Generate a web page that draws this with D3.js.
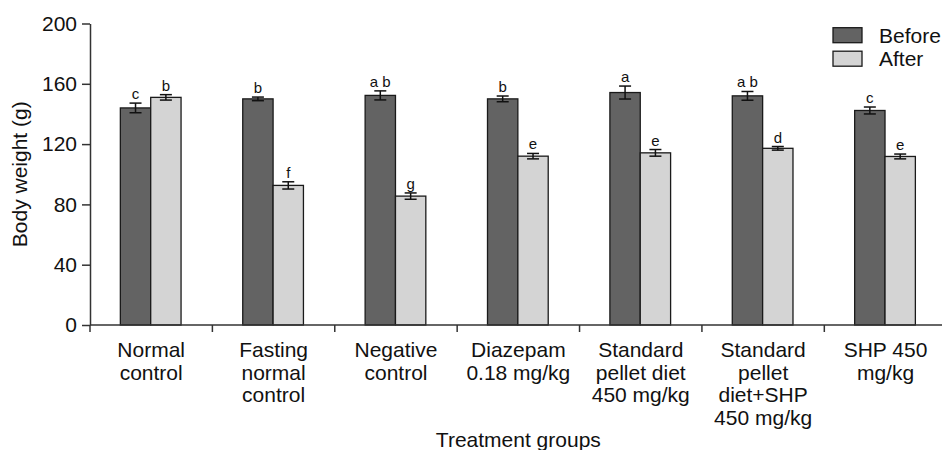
<!DOCTYPE html>
<html>
<head>
<meta charset="utf-8">
<script src="https://cdn.jsdelivr.net/npm/d3@7"></script>
<style>
  body { margin: 0; background: #fff; }
  svg { font-family: "Liberation Sans", Arial, sans-serif; }
</style>
</head>
<body>
<div id="chart"></div>
<script>
// data
var groups = ["Normal control", "Fasting normal control", "Negative control", "Diazepam 0.18 mg/kg",
              "Standard pellet diet 450 mg/kg", "Standard pellet diet+SHP 450 mg/kg", "SHP 450 mg/kg"];
var groupLines = [
  ["Normal", "control"],
  ["Fasting", "normal", "control"],
  ["Negative", "control"],
  ["Diazepam", "0.18 mg/kg"],
  ["Standard", "pellet diet", "450 mg/kg"],
  ["Standard", "pellet", "diet+SHP", "450 mg/kg"],
  ["SHP 450", "mg/kg"]
];
var series = ["Before", "After"];
var before    = [144, 150, 152.3, 150, 154.2, 152, 142.3];
var beforeErr = [3.2, 1.2, 3.0, 1.9, 4.3, 2.9, 2.3];
var after     = [151, 92.6, 85.5, 112, 114.2, 117.2, 111.8];
var afterErr  = [1.8, 2.4, 2.1, 1.8, 2.2, 1.2, 1.6];
var beforeSig = ["c", "b", "a b", "b", "a", "a b", "c"];
var afterSig  = ["b", "f", "g", "e", "e", "d", "e"];
var yTicks = [0, 40, 80, 120, 160, 200];

var width = 942, height = 450;
var colors = { "Before": "#636363", "After": "#d4d4d4" };

var svg = d3.select("#chart").append("svg")
    .attr("width", width)
    .attr("height", height);

var margin = { top: 23.5, left: 90, bottom: 325 };

var y = d3.scaleLinear().domain([0, 200]).range([margin.bottom, margin.top]);

var x0 = d3.scaleBand().domain(groups).range([margin.left, 946.7]).padding(0);
var bw = x0.bandwidth();
var x1 = d3.scaleBand().domain(series).range([bw * 0.248, bw * 0.744]).padding(0);

var rows = groups.map(function(g, i) {
  return [
    { group: g, key: "Before", v: before[i], e: beforeErr[i], sig: beforeSig[i] },
    { group: g, key: "After",  v: after[i],  e: afterErr[i],  sig: afterSig[i] }
  ];
});

// y axis
var yAxis = svg.append("g")
    .attr("transform", "translate(" + margin.left + ",0)")
    .call(d3.axisLeft(y).tickValues(yTicks).tickSize(8).tickPadding(5).tickSizeOuter(0));
yAxis.select(".domain").attr("stroke", "#333").attr("stroke-width", 1.5);
yAxis.selectAll(".tick line").attr("stroke", "#333").attr("stroke-width", 1.5);
yAxis.selectAll(".tick text").style("font-size", "21px").attr("fill", "#111");

// bars
var gGroups = svg.selectAll(".grp").data(rows).enter().append("g")
    .attr("class", "grp")
    .attr("transform", function(d) { return "translate(" + x0(d[0].group) + ",0)"; });

var items = gGroups.selectAll(".item").data(function(d) { return d; }).enter().append("g");

items.append("rect")
    .attr("x", function(d) { return x1(d.key); })
    .attr("y", function(d) { return y(d.v); })
    .attr("width", x1.bandwidth())
    .attr("height", function(d) { return y(0) - y(d.v); })
    .attr("fill", function(d) { return colors[d.key]; })
    .attr("stroke", "#1a1a1a")
    .attr("stroke-width", 1.3);

// error bars
var cap = 6;
items.each(function(d) {
  var g = d3.select(this);
  var cx = x1(d.key) + x1.bandwidth() / 2;
  g.append("line")
      .attr("x1", cx).attr("x2", cx)
      .attr("y1", y(d.v + d.e)).attr("y2", y(d.v - d.e))
      .attr("stroke", "#111").attr("stroke-width", 1.5);
  [d.v + d.e, d.v - d.e].forEach(function(val) {
    g.append("line")
        .attr("x1", cx - cap).attr("x2", cx + cap)
        .attr("y1", y(val)).attr("y2", y(val))
        .attr("stroke", "#111").attr("stroke-width", 1.5);
  });
  g.append("text")
      .attr("x", cx)
      .attr("y", y(d.v + d.e) - 4)
      .attr("text-anchor", "middle")
      .style("font-size", "15px")
      .attr("fill", "#111")
      .text(d.sig);
});

// x axis (ticks on group boundaries)
var xAxis = svg.append("g");
xAxis.append("line")
    .attr("x1", margin.left).attr("x2", width)
    .attr("y1", y(0)).attr("y2", y(0))
    .attr("stroke", "#333").attr("stroke-width", 1.5);
xAxis.selectAll(".xt").data(groups).enter().append("line")
    .attr("x1", function(d) { return x0(d); })
    .attr("x2", function(d) { return x0(d); })
    .attr("y1", y(0)).attr("y2", y(0) + 7)
    .attr("stroke", "#333").attr("stroke-width", 1.5);

var labels = xAxis.selectAll(".xl").data(groups).enter().append("text")
    .attr("text-anchor", "middle")
    .style("font-size", "21px")
    .attr("fill", "#111")
    .attr("transform", function(d) { return "translate(" + (x0(d) + bw / 2) + ",357)"; });
labels.selectAll("tspan").data(function(d, i) { return groupLines[i]; }).enter().append("tspan")
    .attr("x", 0)
    .attr("dy", function(d, i) { return i === 0 ? 0 : 22.7; })
    .text(function(d) { return d; });

// axis titles
svg.append("text")
    .attr("transform", "translate(27," + ((margin.top + margin.bottom) / 2) + ") rotate(-90)")
    .attr("text-anchor", "middle")
    .style("font-size", "21px")
    .attr("fill", "#111")
    .text("Body weight (g)");

svg.append("text")
    .attr("x", (margin.left + 946.7) / 2)
    .attr("y", 446.5)
    .attr("text-anchor", "middle")
    .style("font-size", "21px")
    .attr("fill", "#111")
    .text("Treatment groups");

// legend
var legend = svg.selectAll(".lg").data(series).enter().append("g")
    .attr("transform", function(d, i) { return "translate(833," + (27.7 + i * 23.5) + ")"; });
legend.append("rect")
    .attr("width", 29).attr("height", 15)
    .attr("fill", function(d) { return colors[d]; })
    .attr("stroke", "#1a1a1a").attr("stroke-width", 1.3);
legend.append("text")
    .attr("x", 46).attr("y", 15)
    .style("font-size", "21px")
    .attr("fill", "#111")
    .text(function(d) { return d; });
</script>
</body>
</html>
